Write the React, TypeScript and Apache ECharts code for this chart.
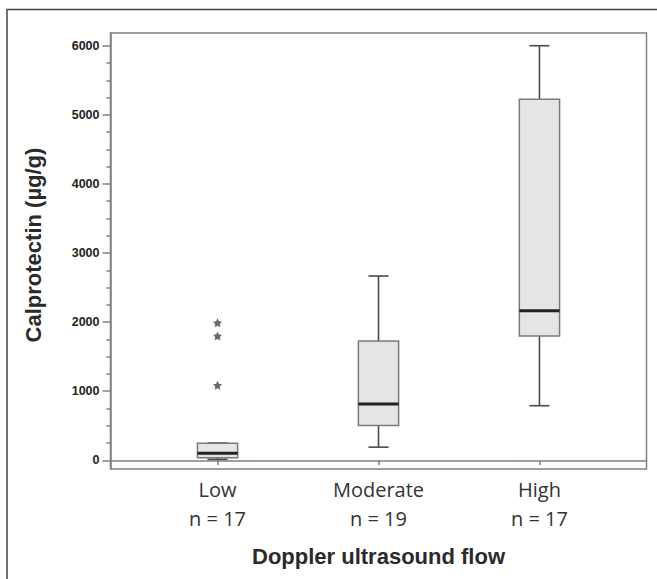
import React, { useEffect, useRef } from "react";
import * as echarts from "echarts";

const categories = ["Low", "Moderate", "High"];
const counts = [17, 19, 17];
const whiskerLow = [14, 190, 790];
const q1 = [38, 505, 1800];
const median = [101, 815, 2165];
const q3 = [246, 1725, 5225];
const whiskerHigh = [250, 2667, 6000];
const outlierX = [1, 1, 1];
const outlierY = [1990, 1800, 1085];
const yMajorTicks = [0, 1000, 2000, 3000, 4000, 5000, 6000];
const yMinorTicks = [250, 500, 750, 1250, 1500, 1750, 2250, 2500, 2750, 3250, 3500, 3750, 4250, 4500, 4750, 5250, 5500, 5750];

const STAR =
  "path://M0,-10 L2.9,-4 L9.5,-3.1 L4.8,1.5 L5.9,8.1 L0,5 L-5.9,8.1 L-4.8,1.5 L-9.5,-3.1 L-2.9,-4 Z";

export default function App() {
  const ref = useRef<HTMLDivElement>(null);
  useEffect(() => {
    if (!ref.current) return;
    const chart = echarts.init(ref.current, null, { renderer: "svg" });
    const boxData = categories.map((_, i) => [
      i + 1,
      whiskerLow[i],
      q1[i],
      median[i],
      q3[i],
      whiskerHigh[i],
    ]);
    const yMin = -126;
    const yMax = 6184;
    const axisGray = "#808080";
    chart.setOption({
      animation: false,
      backgroundColor: "#ffffff",
      grid: {
        left: 110.5,
        top: 33,
        right: 10.5,
        bottom: 110,
        show: true,
        borderColor: axisGray,
        borderWidth: 1.5,
        backgroundColor: "transparent",
      },
      xAxis: {
        type: "value",
        min: 0.335,
        max: 3.665,
        splitLine: { show: false },
        axisLine: { show: true, lineStyle: { color: axisGray, width: 1.5 } },
        axisTick: {
          show: true,
          customValues: categories.map((_, i) => i + 1),
          length: 5,
          lineStyle: { color: axisGray, width: 1.5 },
        },
        axisLabel: {
          show: true,
          customValues: categories.map((_, i) => i + 1),
          formatter: (v: number) => {
            const i = Math.round(v) - 1;
            return `${categories[i]}\nn = ${counts[i]}`;
          },
          fontFamily: "Open Sans",
          fontSize: 20,
          lineHeight: 29,
          color: "#333333",
          margin: 6,
        },
        name: "Doppler ultrasound flow",
        nameLocation: "middle",
        nameGap: 76,
        nameTextStyle: {
          fontFamily: "Liberation Sans",
          fontWeight: "bold",
          fontSize: 22,
          color: "#2a2a2a",
        },
      },
      yAxis: [
        {
          type: "value",
          position: "left",
          min: yMin,
          max: yMax,
          splitLine: { show: false },
          axisLine: { show: true, lineStyle: { color: axisGray, width: 1.5 } },
          axisTick: {
            show: true,
            customValues: yMajorTicks,
            length: 8,
            lineStyle: { color: axisGray, width: 1.5 },
          },
          axisLabel: {
            show: true,
            customValues: yMajorTicks,
            formatter: (v: number) => String(Math.round(v)),
            fontFamily: "Liberation Sans",
            fontWeight: "bold",
            fontSize: 12.5,
            color: "#222222",
            margin: 11,
          },
        },
        {
          type: "value",
          position: "left",
          min: yMin,
          max: yMax,
          splitLine: { show: false },
          axisLine: { show: false },
          axisLabel: { show: false },
          axisTick: {
            show: true,
            customValues: yMinorTicks,
            length: 4,
            lineStyle: { color: axisGray, width: 1.5 },
          },
        },
      ],
      graphic: [
        {
          type: "rect",
          shape: { x: 7, y: 9.5, width: 700, height: 620 },
          style: { fill: "none", stroke: "#444444", lineWidth: 1.5 },
          silent: true,
        },
        {
          type: "text",
          x: 33,
          y: 245,
          rotation: Math.PI / 2,
          style: {
            text: "Calprotectin (µg/g)",
            font: "bold 22px 'Liberation Sans'",
            fill: "#2a2a2a",
            textAlign: "center",
            textVerticalAlign: "middle",
          },
          silent: true,
        },
      ],
      series: [
        {
          type: "custom",
          xAxisIndex: 0,
          yAxisIndex: 0,
          encode: { x: 0, y: [1, 2, 3, 4, 5] },
          data: boxData,
          renderItem: (params: any, api: any) => {
            const x = api.value(0);
            const lo = api.coord([x, api.value(1)]);
            const b = api.coord([x, api.value(2)]);
            const m = api.coord([x, api.value(3)]);
            const t = api.coord([x, api.value(4)]);
            const hi = api.coord([x, api.value(5)]);
            const half = api.size([0.25, 0])[0] / 2;
            const cap = half / 2;
            const cx = lo[0];
            const ws = { stroke: "#4a4a4a", lineWidth: 1.6 };
            return {
              type: "group",
              children: [
                { type: "line", shape: { x1: cx, y1: hi[1], x2: cx, y2: t[1] }, style: ws },
                { type: "line", shape: { x1: cx, y1: b[1], x2: cx, y2: lo[1] }, style: ws },
                { type: "line", shape: { x1: cx - cap, y1: hi[1], x2: cx + cap, y2: hi[1] }, style: ws },
                { type: "line", shape: { x1: cx - cap, y1: lo[1], x2: cx + cap, y2: lo[1] }, style: ws },
                {
                  type: "rect",
                  shape: { x: cx - half, y: t[1], width: half * 2, height: b[1] - t[1] },
                  style: { fill: "#e5e5e7", stroke: "#7a7a7a", lineWidth: 1.5 },
                },
                {
                  type: "line",
                  shape: { x1: cx - half, y1: m[1], x2: cx + half, y2: m[1] },
                  style: { stroke: "#222222", lineWidth: 3 },
                },
              ],
            };
          },
        },
        {
          type: "scatter",
          xAxisIndex: 0,
          yAxisIndex: 0,
          symbol: STAR,
          symbolSize: 9,
          itemStyle: { color: "#444444" },
          data: outlierX.map((x, i) => [x, outlierY[i]]),
        },
      ],
    });
    return () => chart.dispose();
  }, []);
  return (
    <div
      ref={ref}
      style={{ position: "fixed", left: 0, top: 0, width: 657, height: 579 }}
    />
  );
}
